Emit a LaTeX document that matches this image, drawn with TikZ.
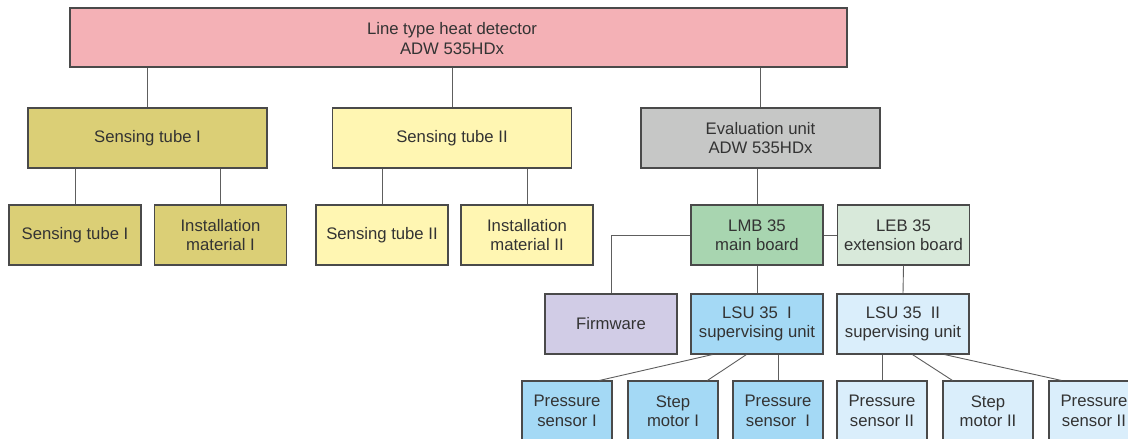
\documentclass[tikz,border=0pt]{standalone}
\usepackage{fontspec}
\setmainfont{Liberation Sans}
\usetikzlibrary{calc}
\definecolor{pinkc}{HTML}{F4B1B6}
\definecolor{olivec}{HTML}{DBCF76}
\definecolor{lyellowc}{HTML}{FFF6B2}
\definecolor{grayc}{HTML}{C6C7C6}
\definecolor{greenc}{HTML}{A8D5B0}
\definecolor{lgreenc}{HTML}{D8E9DA}
\definecolor{lavc}{HTML}{D1CCE6}
\definecolor{bluec}{HTML}{A4D9F5}
\definecolor{lbluec}{HTML}{DAEEFB}
\definecolor{borderc}{HTML}{4A4A4A}
\definecolor{linec}{HTML}{5E5E5E}
\definecolor{textc}{HTML}{333333}
\tikzset{
  box/.style={draw=borderc, line width=1.1pt, inner sep=0pt, align=center,
    text=textc, font=\fontsize{16.7}{19.5}\selectfont},
  widebox/.style={box, minimum width=239pt, minimum height=60pt},
  midbox/.style={box, minimum width=132pt, minimum height=60pt},
  smallbox/.style={box, minimum width=90pt, minimum height=60pt},
  conn/.style={draw=linec, line width=0.9pt}
}
\begin{document}
\begin{tikzpicture}[x=1pt, y=-1pt]
\useasboundingbox (0,0) rectangle (1128,439);
\clip (0,0) rectangle (1128,439);
% top
\node[box, fill=pinkc, minimum width=777pt, minimum height=59pt] (top) at (458.5,37.5) {};
\node[align=center, text=textc, font=\fontsize{16.7}{19.5}\selectfont, inner sep=0pt] (toptext) at (452,38.5) {Line type heat detector\\ADW 535HDx};
% row 1
\node[widebox, fill=olivec] (st1) at (147.5,138) {Sensing tube I};
\node[widebox, fill=lyellowc] (st2) at (452,138) {Sensing tube II};
\node[widebox, fill=grayc] (eval) at (760.5,138) {Evaluation unit\\ADW 535HDx};
% row 2
\node[midbox, fill=olivec] (a1) at (75,235) {Sensing tube I};
\node[midbox, fill=olivec] (a2) at (220.5,235) {Installation\\material I};
\node[midbox, fill=lyellowc] (b1) at (382,235) {Sensing tube II};
\node[midbox, fill=lyellowc] (b2) at (527,235) {Installation\\material II};
\node[midbox, fill=greenc] (lmb) at (757,235) {LMB 35\\main board};
\node[midbox, fill=lgreenc] (leb) at (903.5,235) {LEB 35\\extension board};
% row 3
\node[midbox, fill=lavc] (fw) at (611,324) {Firmware};
\node[midbox, fill=bluec] (lsu1) at (757,324) {LSU 35\ \ I\\supervising unit};
\node[midbox, fill=lbluec] (lsu2) at (903,324) {LSU 35\ \ II\\supervising unit};
% row 4
\node[smallbox, fill=bluec] (p1) at (567,411) {Pressure\\sensor I};
\node[smallbox, fill=bluec] (m1) at (673,411) {Step\\motor I};
\node[smallbox, fill=bluec] (p2) at (778,411) {Pressure\\sensor\ \ I};
\node[smallbox, fill=lbluec] (q1) at (882,411) {Pressure\\sensor II};
\node[smallbox, fill=lbluec] (n1) at (988,411) {Step\\motor II};
\node[smallbox, fill=lbluec] (q2) at (1094,411) {Pressure\\sensor II};
% connectors
\draw[conn] (st1.north) -- (st1.north |- top.south);
\draw[conn] (st2.north) -- (st2.north |- top.south);
\draw[conn] (eval.north) -- (eval.north |- top.south);
\draw[conn] (a1.north) -- (a1.north |- st1.south);
\draw[conn] (a2.north) -- (a2.north |- st1.south);
\draw[conn] (b1.north) -- (b1.north |- st2.south);
\draw[conn] (b2.north) -- (b2.north |- st2.south);
\draw[conn] (lmb.north) -- (lmb.north |- eval.south);
\draw[conn] (lmb.east) -- (leb.west);
\draw[conn] (lmb.west) -| (fw.north);
\draw[conn] (lmb.south) -- (lsu1.north);
\draw[conn] (leb.south) -- (lsu2.north);
\draw[conn] ($(lsu1.south west)+(22,0)$) -- ($(p1.north west)+(78,0)$);
\draw[conn] ($(lsu1.south west)+(56,0)$) -- ($(m1.north west)+(80,0)$);
\draw[conn] (p2.north) -- (p2.north |- lsu1.south);
\draw[conn] (q1.north) -- (q1.north |- lsu2.south);
\draw[conn] ($(lsu2.south west)+(76,0)$) -- ($(n1.north west)+(10,0)$);
\draw[conn] ($(lsu2.south west)+(108,0)$) -- ($(q2.north west)+(13,0)$);
\end{tikzpicture}
\end{document}
